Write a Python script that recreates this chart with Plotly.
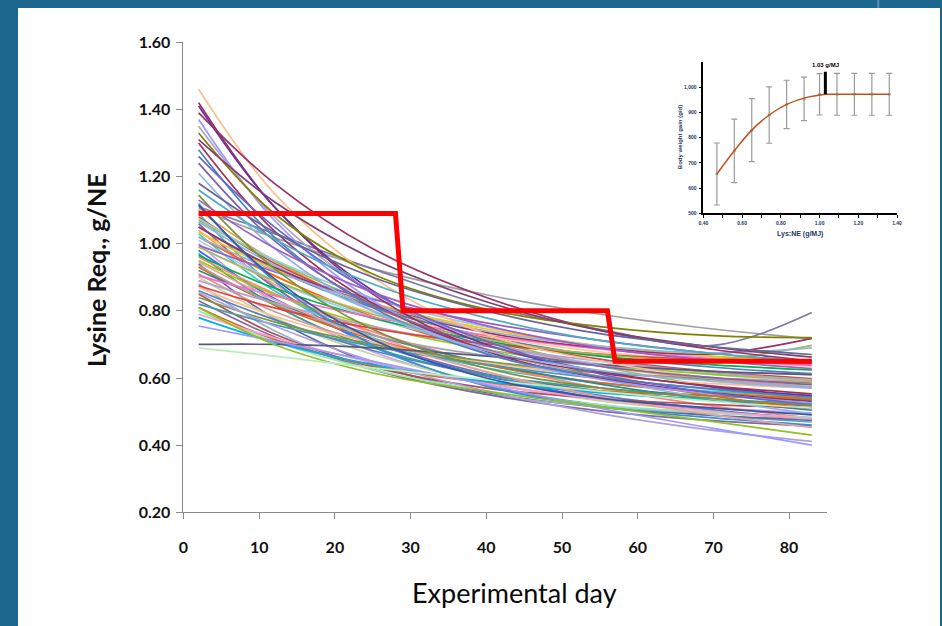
import plotly.graph_objects as go

# ---------------- data ----------------
DAYS = [2, 12, 25, 40, 55, 70, 83]

TOP_CURVES = [
    [1.46, 1.15, 0.90, 0.73, 0.65, 0.60, 0.58],
    [1.42, 1.11, 0.85, 0.68, 0.60, 0.555, 0.53],
    [1.41, 1.11, 0.86, 0.70, 0.62, 0.573, 0.547],
    [1.39, 1.18, 0.985, 0.84, 0.742, 0.685, 0.651],
    [1.37, 1.07, 0.83, 0.674, 0.596, 0.552, 0.526],
    [1.35, 1.08, 0.854, 0.71, 0.638, 0.598, 0.574],
    [1.33, 1.09, 0.91, 0.805, 0.753, 0.726, 0.72],
    [1.31, 1.125, 0.955, 0.827, 0.742, 0.692, 0.662],
    [1.30, 1.038, 0.823, 0.684, 0.615, 0.576, 0.553],
    [1.28, 1.02, 0.81, 0.672, 0.604, 0.566, 0.543],
    [1.26, 1.05, 0.855, 0.71, 0.612, 0.555, 0.52],
    [1.24, 1.009, 0.818, 0.696, 0.635, 0.601, 0.58],
    [1.21, 0.986, 0.80, 0.682, 0.623, 0.59, 0.57],
    [1.18, 1.034, 0.90, 0.80, 0.732, 0.693, 0.67],
    [1.16, 1.014, 0.88, 0.779, 0.712, 0.673, 0.65],
    [1.145, 0.926, 0.745, 0.629, 0.571, 0.539, 0.519],
    [1.13, 0.987, 0.855, 0.756, 0.69, 0.652, 0.628],
    [1.115, 0.896, 0.715, 0.60, 0.54, 0.51, 0.49],
]
TOP_COLORS = ["#fac090", "#953163", "#7030a0", "#993366", "#9999ff", "#b3a2c7",
              "#808000", "#7f3f6f", "#a0325a", "#4f81bd", "#6666cc", "#8064a2",
              "#8db4e2", "#666699", "#4bacc6", "#77933c", "#a05fc8", "#3a56a0"]

MID_CURVES = [
    [1.10, 0.949, 0.81, 0.706, 0.636, 0.595, 0.572],
    [1.09, 0.872, 0.693, 0.578, 0.52, 0.488, 0.469],
    [1.08, 0.942, 0.815, 0.72, 0.656, 0.619, 0.598],
    [1.07, 0.949, 0.822, 0.715, 0.635, 0.574, 0.534],
    [1.06, 0.87, 0.713, 0.612, 0.562, 0.534, 0.517],
    [1.05, 0.925, 0.81, 0.724, 0.666, 0.632, 0.613],
    [1.04, 0.879, 0.73, 0.618, 0.544, 0.50, 0.476],
    [1.03, 0.86, 0.72, 0.63, 0.585, 0.56, 0.545],
    [1.02, 0.905, 0.783, 0.681, 0.604, 0.546, 0.508],
    [1.01, 0.89, 0.78, 0.697, 0.642, 0.61, 0.591],
    [1.00, 0.823, 0.678, 0.584, 0.537, 0.511, 0.496],
    [0.99, 0.889, 0.795, 0.725, 0.678, 0.651, 0.635],
    [0.98, 0.837, 0.705, 0.606, 0.54, 0.502, 0.48],
    [0.97, 0.817, 0.691, 0.61, 0.57, 0.547, 0.534],
    [0.96, 0.852, 0.738, 0.642, 0.57, 0.516, 0.48],
    [0.95, 0.849, 0.755, 0.685, 0.638, 0.611, 0.595],
    [0.94, 0.777, 0.642, 0.556, 0.513, 0.489, 0.474],
    [0.93, 0.818, 0.715, 0.638, 0.586, 0.556, 0.539],
    [0.92, 0.826, 0.728, 0.644, 0.582, 0.535, 0.504],
    [0.91, 0.798, 0.705, 0.646, 0.616, 0.60, 0.59],
    [0.90, 0.78, 0.67, 0.587, 0.532, 0.50, 0.481],
    [0.89, 0.823, 0.753, 0.694, 0.65, 0.616, 0.594],
    [0.88, 0.741, 0.626, 0.552, 0.515, 0.495, 0.482],
    [0.87, 0.784, 0.705, 0.646, 0.606, 0.583, 0.57],
    [0.86, 0.774, 0.682, 0.606, 0.548, 0.505, 0.476],
    [0.85, 0.731, 0.633, 0.57, 0.539, 0.521, 0.511],
    [0.84, 0.767, 0.70, 0.65, 0.616, 0.596, 0.585],
    [0.83, 0.723, 0.625, 0.551, 0.502, 0.473, 0.457],
    [0.82, 0.759, 0.694, 0.64, 0.599, 0.568, 0.548],
    [0.81, 0.715, 0.636, 0.586, 0.561, 0.547, 0.538],
    [0.80, 0.709, 0.625, 0.562, 0.52, 0.496, 0.482],
    [0.79, 0.72, 0.646, 0.583, 0.537, 0.501, 0.478],
    [0.78, 0.707, 0.64, 0.59, 0.556, 0.536, 0.525],
    [1.105, 1.018, 0.926, 0.848, 0.79, 0.746, 0.717],
    [1.075, 0.952, 0.838, 0.752, 0.695, 0.662, 0.643],
    [1.035, 0.925, 0.823, 0.746, 0.695, 0.665, 0.648],
    [0.995, 0.917, 0.834, 0.764, 0.712, 0.673, 0.647],
    [0.965, 0.868, 0.778, 0.71, 0.665, 0.639, 0.624],
    [0.935, 0.821, 0.727, 0.667, 0.637, 0.62, 0.61],
    [0.905, 0.845, 0.781, 0.727, 0.687, 0.657, 0.637],
    [0.875, 0.809, 0.748, 0.702, 0.671, 0.653, 0.643],
    [1.12, 0.889, 0.698, 0.576, 0.515, 0.481, 0.46],
    [1.065, 0.936, 0.80, 0.686, 0.60, 0.536, 0.493],
    [0.945, 0.834, 0.717, 0.619, 0.545, 0.49, 0.453],
    [0.855, 0.755, 0.65, 0.561, 0.494, 0.444, 0.411],
]
MID_COLORS = ["#f79646", "#4bacc6", "#c0504d", "#9bbb59", "#8064a2", "#4f81bd",
              "#ff9999", "#33cccc", "#ff6600", "#99ccff", "#cc99ff", "#ffcc99",
              "#3366ff", "#2aa198", "#ff8080", "#99cc00", "#666699", "#e46c0a",
              "#31859c", "#d99694", "#c3d69b", "#b3a2c7", "#95b3d7", "#fabf8f",
              "#5b7fbd", "#b05050", "#7a9a40", "#7f6a9f", "#4a9ab0", "#d07020",
              "#99e6b3", "#ff99cc", "#00b0f0", "#9f9f9f", "#92cddc", "#ffc000",
              "#9a5cc6", "#00b050", "#a5a5a5", "#ff66cc", "#e04040", "#3b8fd0",
              "#8eb4e3", "#e6a0a0", "#b0a0e0"]

SPECIAL_CURVES = [
    [1.11, 1.03, 0.925, 0.815, 0.745, 0.697, 0.795],
    [1.05, 0.93, 0.82, 0.735, 0.69, 0.672, 0.718],
    [0.99, 0.89, 0.79, 0.715, 0.67, 0.655, 0.697],
    [1.02, 0.92, 0.82, 0.74, 0.695, 0.675, 0.69],
    [0.70, 0.70, 0.69, 0.665, 0.64, 0.62, 0.61],
    [0.755, 0.71, 0.65, 0.58, 0.51, 0.45, 0.40],
    [0.81, 0.70, 0.615, 0.56, 0.515, 0.47, 0.43],
    [0.69, 0.665, 0.63, 0.595, 0.56, 0.53, 0.51],
]
SPECIAL_COLORS = ["#7a7aa8", "#993366", "#9bbb59", "#95b3d7", "#595980",
                  "#9999ff", "#92c020", "#b8f0b8"]

STEP_DAYS = [2, 28, 29, 56, 57, 83]
STEP_REQ = [1.09, 1.09, 0.80, 0.80, 0.65, 0.65]

Y_TICKS = [0.20, 0.40, 0.60, 0.80, 1.00, 1.20, 1.40, 1.60]
X_TICKS = [0, 10, 20, 30, 40, 50, 60, 70, 80]

# inset
INSET_X = [0.47, 0.56, 0.65, 0.74, 0.83, 0.92, 1.00, 1.09, 1.18, 1.27, 1.36]
INSET_MEAN = [656, 748, 830, 890, 932, 954, 972, 972, 972, 972, 972]
INSET_ERR = [123, 126, 125, 112, 96, 86, 82, 83, 83, 83, 83]
FIT_X_CURVE = [0.47, 0.56, 0.65, 0.74, 0.83, 0.92, 1.03]
FIT_Y_CURVE = [656, 748, 830, 890, 932, 957, 972]
FIT_X_FLAT = [1.03, 1.36]
FIT_Y_FLAT = [972, 972]
BREAK_X = 1.03
BREAK_LABEL = "1.03 g/MJ"
INSET_XTICKVALS = [0.4, 0.5, 0.6, 0.7, 0.8, 0.9, 1.0, 1.1, 1.2, 1.3, 1.4]
INSET_XTICKTEXT = ["0.40", "", "0.60", "", "0.80", "", "1.00", "", "1.20", "", "1.40"]
INSET_YTICKVALS = [500, 600, 700, 800, 900, 1000]
INSET_YTICKTEXT = ["500", "600", "700", "800", "900", "1,000"]

# ---------------- figure ----------------
fig = go.Figure()

def add_curve(vals, color):
    fig.add_trace(go.Scatter(x=DAYS, y=vals, mode="lines",
                             line=dict(color=color, width=1.7, shape="spline", smoothing=1.0),
                             hoverinfo="skip", showlegend=False))

for i, c in enumerate(MID_CURVES):
    add_curve(c, MID_COLORS[i % len(MID_COLORS)])
for i, c in enumerate(SPECIAL_CURVES):
    add_curve(c, SPECIAL_COLORS[i])
for i, c in enumerate(TOP_CURVES):
    add_curve(c, TOP_COLORS[i])

fig.add_trace(go.Scatter(x=STEP_DAYS, y=STEP_REQ, mode="lines",
                         line=dict(color="#ff0000", width=5),
                         hoverinfo="skip", showlegend=False))

# inset traces
fig.add_trace(go.Scatter(x=INSET_X, y=INSET_MEAN, mode="markers",
                         marker=dict(color="#999999", size=3),
                         error_y=dict(type="data", array=INSET_ERR, color="#9a9a9a",
                                      thickness=1.2, width=3),
                         xaxis="x2", yaxis="y2", hoverinfo="skip", showlegend=False))
fig.add_trace(go.Scatter(x=FIT_X_CURVE, y=FIT_Y_CURVE, mode="lines",
                         line=dict(color="#c0501c", width=1.5, shape="spline"),
                         xaxis="x2", yaxis="y2", hoverinfo="skip", showlegend=False))
fig.add_trace(go.Scatter(x=FIT_X_FLAT, y=FIT_Y_FLAT, mode="lines",
                         line=dict(color="#c0501c", width=1.5),
                         xaxis="x2", yaxis="y2", hoverinfo="skip", showlegend=False))

AXIS_GRAY = "#8a8a8a"
tickfont = dict(family="Lato", size=16, color="#111111", weight=700)
inset_font = dict(family="Liberation Sans", size=5, color="#1f3864", weight=700)

fig.update_layout(
    width=942, height=626,
    margin=dict(l=18, r=2, t=8, b=0, pad=0, autoexpand=False),
    paper_bgcolor="#1b678e",
    plot_bgcolor="rgba(0,0,0,0)",
    xaxis=dict(domain=[0.1795, 0.8774], range=[0, 85], tickvals=X_TICKS,
               showline=True, linecolor=AXIS_GRAY, linewidth=1,
               ticks="outside", ticklen=6, tickcolor=AXIS_GRAY,
               ticklabelstandoff=15, tickfont=tickfont, automargin=False,
               showgrid=False, zeroline=False, anchor="y"),
    yaxis=dict(domain=[0.184, 0.9445], range=[0.2, 1.6], tickvals=Y_TICKS,
               tickformat=".2f",
               showline=True, linecolor=AXIS_GRAY, linewidth=1,
               ticks="outside", ticklen=6, tickcolor=AXIS_GRAY,
               ticklabelstandoff=3, tickfont=tickfont, automargin=False,
               showgrid=False, zeroline=False, anchor="x"),
    xaxis2=dict(domain=[0.7433, 0.9534], range=[0.4, 1.4],
                tickvals=INSET_XTICKVALS, ticktext=INSET_XTICKTEXT,
                showline=True, linecolor="#000000", linewidth=1.5,
                ticks="outside", ticklen=3, tickcolor="#000000", tickwidth=1.2,
                tickfont=inset_font, ticklabelstandoff=1, automargin=False,
                showgrid=False, zeroline=False, anchor="y2"),
    yaxis2=dict(domain=[0.6678, 0.9125], range=[500, 1100],
                tickvals=INSET_YTICKVALS, ticktext=INSET_YTICKTEXT,
                showline=True, linecolor="#000000", linewidth=1.5,
                ticks="outside", ticklen=3, tickcolor="#000000", tickwidth=1.2,
                tickfont=inset_font, ticklabelstandoff=1, automargin=False,
                showgrid=False, zeroline=False, anchor="x2"),
    shapes=[
        dict(type="rect", xref="paper", yref="paper", x0=0, x1=1, y0=0, y1=1,
             fillcolor="#ffffff", line=dict(width=0), layer="below"),
        dict(type="line", xref="paper", yref="paper", x0=0.933, x1=0.933, y0=1.0, y1=1.013,
             line=dict(color="#5a8fb0", width=2)),
        dict(type="line", xref="x2", yref="y2", x0=BREAK_X, x1=BREAK_X, y0=972, y1=1062,
             line=dict(color="#000000", width=3)),
    ],
    annotations=[
        dict(text="Lysine Req., g/NE", xref="paper", yref="paper", x=0.0846, y=0.576,
             xanchor="center", yanchor="middle",
             showarrow=False, textangle=-90,
             font=dict(family="Lato", size=25, color="#111111", weight=700)),
        dict(text="Experimental day", xref="paper", yref="paper", x=0.538, y=0.055,
             xanchor="center", yanchor="middle",
             showarrow=False,
             font=dict(family="Lato", size=27, color="#0a0a0a")),
        dict(text=BREAK_LABEL, xref="x2", yref="y2", x=BREAK_X, y=1088,
             showarrow=False, font=dict(family="Liberation Sans", size=6, color="#000000", weight=700)),
        dict(text="Lys:NE (g/MJ)", xref="paper", yref="paper", x=0.848, y=0.634,
             xanchor="center", yanchor="middle",
             showarrow=False, font=dict(family="Liberation Sans", size=7, color="#1f3864", weight=700)),
        dict(text="Body weight gain (g/d)", xref="paper", yref="paper", x=0.718, y=0.791,
             xanchor="center", yanchor="middle",
             showarrow=False, textangle=-90,
             font=dict(family="Liberation Sans", size=6, color="#1f3864", weight=700)),
    ],
)

fig.write_html("out.html")
